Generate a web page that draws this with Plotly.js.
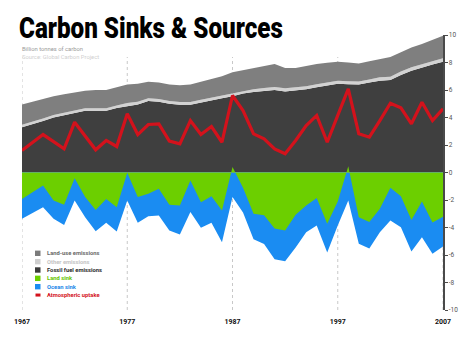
<!DOCTYPE html>
<html>
<head>
<meta charset="utf-8">
<script src="https://cdn.plot.ly/plotly-3.0.1.min.js"></script>
<style>
html,body{margin:0;padding:0;background:#fff;}
#chart{width:474px;height:355px;}
</style>
</head>
<body>
<div id="chart"></div>
<script>
// ---- Data (billion tonnes of carbon per year) ----
const years = [1967,1968,1969,1970,1971,1972,1973,1974,1975,1976,
               1977,1978,1979,1980,1981,1982,1983,1984,1985,1986,
               1987,1988,1989,1990,1991,1992,1993,1994,1995,1996,
               1997,1998,1999,2000,2001,2002,2003,2004,2005,2006,2007];

const fossilFuel = [3.30,3.50,3.75,4.00,4.15,4.32,4.50,4.50,4.50,4.70,
                    4.85,4.95,5.20,5.15,5.00,4.92,4.93,5.10,5.25,5.40,
                    5.55,5.75,5.85,5.95,6.00,5.90,5.95,6.05,6.20,6.35,
                    6.45,6.42,6.40,6.55,6.68,6.72,7.10,7.40,7.65,7.85,8.05];

const otherEmissions = [0.18,0.18,0.18,0.18,0.18,0.18,0.18,0.18,0.18,0.18,
                        0.20,0.20,0.20,0.20,0.20,0.20,0.20,0.20,0.20,0.20,
                        0.20,0.20,0.20,0.20,0.22,0.22,0.22,0.22,0.22,0.22,
                        0.22,0.22,0.22,0.22,0.25,0.25,0.25,0.25,0.25,0.25,0.25];

const landUse = [1.47,1.47,1.47,1.37,1.37,1.35,1.27,1.32,1.32,1.32,
                 1.35,1.30,1.20,1.20,1.20,1.23,1.27,1.30,1.35,1.40,
                 1.55,1.50,1.57,1.60,1.68,1.48,1.43,1.48,1.48,1.41,
                 1.38,1.36,1.30,1.33,1.32,1.43,1.40,1.45,1.45,1.55,1.65];

const landSink = [1.92,1.44,0.95,2.04,2.35,0.41,1.79,2.72,1.92,2.52,
                  0.02,1.79,1.55,1.19,2.35,2.40,0.58,2.16,1.72,2.76,
                  -0.40,1.10,3.00,3.10,4.07,4.22,3.07,2.40,1.85,3.73,
                  2.10,-0.45,3.25,3.60,2.64,1.10,1.73,3.45,2.10,3.63,3.22];

const oceanSink = [1.45,1.51,1.57,1.33,1.46,1.63,1.46,1.55,1.74,1.77,
                   2.02,1.87,1.63,1.94,1.87,2.11,2.30,1.86,1.94,2.31,
                   2.19,1.80,1.85,2.10,2.23,2.23,2.38,1.94,2.00,2.09,
                   1.75,2.49,1.94,1.92,1.70,2.39,2.25,2.30,2.60,2.27,2.17];

const atmosphericUptake = [1.60,2.20,2.76,2.25,1.72,3.66,2.65,1.65,2.33,1.89,
                           4.27,2.76,3.49,3.54,2.28,2.08,3.78,2.76,3.34,2.20,
                           5.60,4.50,2.81,2.45,1.72,1.36,2.33,3.42,4.15,2.20,
                           4.15,6.08,2.81,2.57,3.78,5.04,4.70,3.54,5.11,3.78,4.63];

const tickYears = [1967,1977,1987,1997,2007];
const yTicks = [-10,-8,-6,-4,-2,0,2,4,6,8,10];

const legendItems = [
  {label:'Land-use emissions', color:'#7b7b7b', text:'#6a6a6a', kind:'box'},
  {label:'Other emissions', color:'#cfcfcf', text:'#c4c4c4', kind:'box'},
  {label:'Fossil fuel emissions', color:'#3b3b3b', text:'#2a2a2a', kind:'box'},
  {label:'Land sink', color:'#6ccf00', text:'#66c400', kind:'box'},
  {label:'Ocean sink', color:'#1a8cf2', text:'#1a86e8', kind:'box'},
  {label:'Atmospheric uptake', color:'#d3121c', text:'#d3121c', kind:'line'}
];

// ---- Colours ----
const C = {fossil:'#3f3f3f', other:'#d2d2d2', landuse:'#7f7f7f', land:'#6ccf00', ocean:'#1a8cf2', atm:'#d3121c'};

const totalSink = landSink.map((v,i)=> -(v + oceanSink[i]));
const landNeg = landSink.map(v => -v);

const traces = [
  {x:years, y:fossilFuel, type:'scatter', mode:'lines', stackgroup:'emis', fillcolor:C.fossil, line:{width:0,color:C.fossil}, name:'Fossil fuel emissions'},
  {x:years, y:otherEmissions, type:'scatter', mode:'lines', stackgroup:'emis', fillcolor:C.other, line:{width:0,color:C.other}, name:'Other emissions'},
  {x:years, y:landUse, type:'scatter', mode:'lines', stackgroup:'emis', fillcolor:C.landuse, line:{width:0,color:C.landuse}, name:'Land-use emissions'},
  {x:years, y:totalSink, type:'scatter', mode:'lines', fill:'tozeroy', fillcolor:C.ocean, line:{width:0,color:C.ocean}, name:'Ocean sink'},
  {x:years, y:landNeg, type:'scatter', mode:'lines', fill:'tozeroy', fillcolor:C.land, line:{width:0,color:C.land}, name:'Land sink'},
  {x:years, y:atmosphericUptake, type:'scatter', mode:'lines', line:{width:3.2,color:C.atm}, name:'Atmospheric uptake'}
];

// Plot area in pixels: x 22..443, y 35..310
const W=474, H=355, L=22, R=31, T=35, B=45;
const pw = W-L-R, ph = H-T-B;
const px2paper = p => (p - L)/pw;
const py2paper = p => (H - B - p)/ph;

const shapes = tickYears.map(yr => ({
  type:'line', xref:'x', yref:'y', x0:yr, x1:yr, y0:-10, y1:8.4,
  line:{color:'#c8c8c8', width:1, dash:'dot'}, layer:'below'
}));

const annotations = [
  {text:'Billion tonnes of carbon', xref:'paper', yref:'paper', x:px2paper(20), y:py2paper(49), xanchor:'left', yanchor:'middle', showarrow:false, font:{family:'Roboto, sans-serif', size:5.8, color:'#9a9a9a'}},
  {text:'Source: Global Carbon Project', xref:'paper', yref:'paper', x:px2paper(20), y:py2paper(57.3), xanchor:'left', yanchor:'middle', showarrow:false, font:{family:'Roboto, sans-serif', size:5.8, color:'#d0d0d0'}}
];

legendItems.forEach((it,i)=>{
  const cy = 253.3 + i*8.35;
  annotations.push({text:'<b>'+it.label+'</b>', xref:'paper', yref:'paper', x:px2paper(44.5), y:py2paper(cy), xanchor:'left', yanchor:'middle', showarrow:false, font:{family:'Roboto, sans-serif', size:5.8, color:it.text}});
  if(it.kind==='box'){
    shapes.push({type:'rect', xref:'paper', yref:'paper', x0:px2paper(35), x1:px2paper(40.5), y0:py2paper(cy-2.7), y1:py2paper(cy+2.7), fillcolor:it.color, line:{width:0}});
  } else {
    shapes.push({type:'line', xref:'paper', yref:'paper', x0:px2paper(35.5), x1:px2paper(40.5), y0:py2paper(cy), y1:py2paper(cy), line:{color:it.color, width:3}});
  }
});

const layout = {
  width:W, height:H,
  margin:{l:L, r:R, t:T, b:B, pad:0},
  paper_bgcolor:'#ffffff', plot_bgcolor:'#ffffff',
  showlegend:false,
  title:{text:'Carbon Sinks & Sources', xref:'container', yref:'container', x:19/W, y:1-38/H, xanchor:'left', yanchor:'bottom', pad:{t:0,b:0,l:0,r:0},
         font:{family:'Roboto, "DejaVu Sans", sans-serif', size:30, color:'#000', weight:900}},
  xaxis:{range:[1967,2007], tickvals:tickYears, ticktext:tickYears.map(String), showgrid:false, zeroline:false, showline:false, ticks:'', ticklabelstandoff:6,
         tickfont:{family:'Roboto, sans-serif', size:7, color:'#111', weight:'bold'}, fixedrange:true},
  yaxis:{range:[-10,10], side:'right', tickvals:yTicks, ticktext:yTicks.map(String), showgrid:false, zeroline:false,
         showline:true, linecolor:'#4a4a4a', linewidth:1.5, ticks:'outside', ticklen:3, tickwidth:1, tickcolor:'#4a4a4a',
         tickfont:{family:'Roboto, sans-serif', size:6.5, color:'#555'}, fixedrange:true},
  shapes:shapes,
  annotations:annotations,
  hovermode:false
};

Plotly.newPlot('chart', traces, layout, {staticPlot:true, displayModeBar:false}).then(()=>{
  const t = document.querySelector('.gtitle');
  if(t && t.getComputedTextLength){
    const w = t.getComputedTextLength();
    const target = 264;
    if(w>0){
      const sx = target/w;
      const x0 = parseFloat(t.getAttribute('x')) || 0;
      t.setAttribute('transform', 'translate(' + (x0*(1-sx)) + ',0) scale(' + sx + ',1)');
    }
  }
});
</script>
</body>
</html>
